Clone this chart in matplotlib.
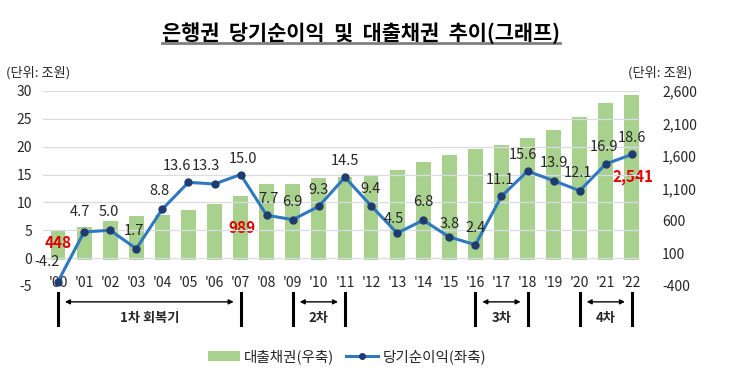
import matplotlib

matplotlib.use("Agg")
import matplotlib.pyplot as plt
from matplotlib.lines import Line2D
from matplotlib.patches import Patch
from matplotlib.transforms import blended_transform_factory

years = ["'00", "'01", "'02", "'03", "'04", "'05", "'06", "'07", "'08", "'09", "'10", "'11",
         "'12", "'13", "'14", "'15", "'16", "'17", "'18", "'19", "'20", "'21", "'22"]
net_income = [-4.2, 4.7, 5.0, 1.7, 8.8, 13.6, 13.3, 15.0, 7.7, 6.9, 9.3, 14.5,
              9.4, 4.5, 6.8, 3.8, 2.4, 11.1, 15.6, 13.9, 12.1, 16.9, 18.6]
loans = [448, 500, 594, 672, 699, 762, 867, 989, 1170, 1170, 1260, 1280,
         1312, 1380, 1505, 1610, 1705, 1773, 1877, 2003, 2192, 2416, 2541]
loan_label_years = ["'00", "'07", "'22"]
loan_label_texts = ["448", "989", "2,541"]

period_start = ["'00", "'09", "'16", "'20"]
period_end = ["'07", "'11", "'18", "'22"]
period_names = ["1차 회복기", "2차", "3차", "4차"]

left_ticks = [-5, 0, 5, 10, 15, 20, 25, 30]
right_ticks = [-400, 100, 600, 1100, 1600, 2100, 2600]

BAR_COLOR = "#A9D18E"
LINE_COLOR = "#2E78C2"
MARKER_COLOR = "#1F3B70"
RED = "#E00000"
GRID = "#D9DCE6"
TXT = "#262626"

plt.rcParams["font.family"] = ["Noto Sans CJK KR", "DejaVu Sans"]
plt.rcParams["axes.unicode_minus"] = False


def main() -> None:
    fig = plt.figure(figsize=(7.3, 3.87), dpi=100)
    ax = fig.add_axes([0.0589, 0.261, 0.8178, 0.504])
    ax2 = ax.twinx()

    x = list(range(len(years)))
    idx = {y: i for i, y in enumerate(years)}

    # bars on the right axis, line on the left axis (line drawn on top)
    ax2.bar(x, loans, width=0.57, color=BAR_COLOR, zorder=2)
    ax2.set_ylim(-400, 2600)
    ax2.set_yticks(right_ticks)
    ax2.set_yticklabels([f"{v:,}" for v in right_ticks])

    ax.plot(x, net_income, color=LINE_COLOR, linewidth=2.2, marker="o",
            markersize=5, markerfacecolor=MARKER_COLOR, markeredgecolor=MARKER_COLOR,
            zorder=3, clip_on=False)
    ax.set_ylim(-5, 30)
    ax.set_yticks(left_ticks)
    ax.set_xlim(-0.575, 22.31)
    ax.set_xticks(x)
    ax.set_xticklabels(years)

    for a in (ax, ax2):
        for s in a.spines.values():
            s.set_visible(False)
    ax.tick_params(axis="y", length=0, pad=8, labelsize=10, labelcolor=TXT)
    ax2.tick_params(axis="y", length=0, pad=16, labelsize=10, labelcolor=TXT)
    ax.tick_params(axis="x", length=0, pad=-7, labelsize=10, labelcolor=TXT)
    for lab in ax2.get_yticklabels():
        lab.set_horizontalalignment("left")

    # gridlines live on the bar axes so they sit behind the bars
    ax2.set_xlim(ax.get_xlim())
    ax2.set_xticks(x)
    ax2.tick_params(axis="x", length=0, labelbottom=False)
    ax2.grid(True, axis="x", color=GRID, linewidth=0.9, zorder=0)
    ax2.set_axisbelow(True)
    for v in left_ticks:
        ax.axhline(v, color=GRID, linewidth=0.9, zorder=0)
    ax.set_zorder(ax2.get_zorder() + 1)
    ax.patch.set_visible(False)

    # net income labels
    offsets = [(-8, 14), (-3, 14), (-1, 13), (-2, 13), (-2, 13), (-8, 12), (-6, 13), (2, 11),
               (1, 12), (0, 13), (0, 12), (0, 12), (0, 12), (-2, 10), (0, 13), (0, 9),
               (0, 12), (-1, 12), (-3, 12), (0, 13), (-1, 13), (-1, 12), (0, 12)]
    for xi, v, off in zip(x, net_income, offsets):
        ax.annotate(f"{v:.1f}", (xi, v), xytext=off, textcoords="offset points",
                    ha="center", va="center", fontsize=10.5, color=TXT, zorder=5)

    # loan labels in red
    red_offsets = [(0, -9), (1, -23), (1, -59)]
    for y, t, off in zip(loan_label_years, loan_label_texts, red_offsets):
        i = idx[y]
        ax2.annotate(t, (i, loans[i]), xytext=off, textcoords="offset points",
                     ha="center", va="center", fontsize=11, fontweight="bold", color=RED, zorder=6)

    # units
    fig.text(0.008, 0.813, "(단위: 조원)", fontsize=9.5, color=TXT, ha="left", va="center")
    fig.text(0.860, 0.813, "(단위: 조원)", fontsize=9.5, color=TXT, ha="left", va="center")

    # recovery periods under the axis
    trans = blended_transform_factory(ax.transData, fig.transFigure)
    for s, e, name in zip(period_start, period_end, period_names):
        xs, xe = idx[s], idx[e]
        for xv in (xs, xe):
            ax.add_artist(Line2D([xv, xv], [0.160, 0.243], transform=trans,
                                 color="black", linewidth=2.2, clip_on=False))
        ax.annotate("", xy=(xe, 0.220), xytext=(xs, 0.220), xycoords=trans, textcoords=trans,
                    arrowprops=dict(arrowstyle="<|-|>", color="black", lw=1.0,
                                    mutation_scale=7, shrinkA=5, shrinkB=5),
                    annotation_clip=False)
        ax.text((xs + xe) / 2, 0.178, name, transform=trans, ha="center", va="center",
                fontsize=9.5, fontweight="bold", color=TXT)

    # legend
    handles = [Patch(facecolor=BAR_COLOR, edgecolor="none"),
               Line2D([], [], color=LINE_COLOR, linewidth=2.2, marker="o", markersize=4,
                      markerfacecolor=MARKER_COLOR, markeredgecolor=MARKER_COLOR)]
    fig.legend(handles, ["대출채권(우축)", "당기순이익(좌축)"], loc="center",
               bbox_to_anchor=(0.475, 0.078), ncol=2, frameon=False, fontsize=10.5,
               handlelength=2.2, handletextpad=0.3, columnspacing=0.8,
               labelcolor=TXT)

    # underlined title
    title = fig.text(0.495, 0.915, "은행권  당기순이익  및  대출채권  추이(그래프)", fontsize=15,
                     fontweight="bold", ha="center", va="center", color="black")
    fig.canvas.draw()
    bb = title.get_window_extent().transformed(fig.transFigure.inverted())
    fig.add_artist(Line2D([bb.x0, bb.x1], [bb.y0 + 0.002, bb.y0 + 0.002], transform=fig.transFigure,
                          color="#7F7F7F", linewidth=2.0))

    fig.savefig("out.png", dpi=100)
    plt.close(fig)


if __name__ == "__main__":
    main()
